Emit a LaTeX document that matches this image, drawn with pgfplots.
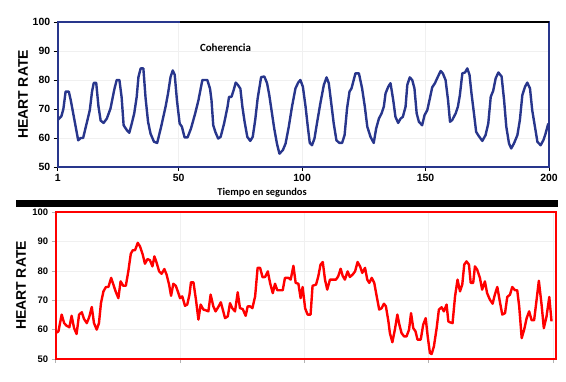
\documentclass[border=0pt]{standalone}
\usepackage{fontspec}
\setmainfont{Liberation Sans}
\newfontfamily\carl{Carlito}
\usepackage{pgfplots}
\pgfplotsset{compat=1.18}
\definecolor{topblue}{RGB}{40,54,140}
\definecolor{myred}{RGB}{255,0,0}
\begin{document}
\begin{tikzpicture}
\useasboundingbox (0,0) rectangle (566bp,382bp);
\begin{axis}[
  at={(57.7bp,215bp)}, anchor=south west, scale only axis,
  width=491.3bp, height=145bp,
  xmin=1, xmax=200, ymin=50, ymax=100,
  xtick={1,50,100,150,200}, ytick={50,60,...,100},
  xtick pos=bottom, ytick pos=left,
  tick align=outside, major tick length=4bp,
  tick style={black, line width=0.6bp},
  axis line style={draw=topblue, line width=2bp},
  grid=major, grid style={gray!12, line width=0.4bp},
  /pgf/number format/assume math mode=true,
  tick label style={font=\fontsize{10.5}{12}\selectfont\bfseries},
  ylabel={HEART RATE},
  ylabel style={font=\fontsize{14}{16}\selectfont\bfseries, at={(axis description cs:-0.0706,0.5)}, anchor=center, rotate=0},
  xlabel={Tiempo en segundos},
  xlabel style={font=\carl\fontsize{10.5}{12}\selectfont\bfseries, at={(axis description cs:0.416,-0.179)}, anchor=center},
]
\addplot[topblue, line width=2.4bp, line join=round] coordinates {
(1,66.2) (2.5,67.5) (3.3,70) (4.2,76) (5.5,76) (6.3,73) (9.3,59.2) (10.3,60) (11.3,60) (13,66) (14,69.6) (14.9,76) (15.6,79) (16.6,79) (17.5,71) (18.4,66) (19.6,65.2) (20.9,66.7) (22.4,70.2) (24,77) (24.9,80) (26,80) (26.9,74) (27.7,64.4) (29,62.7) (30,61.8) (31,65) (32,68.5) (33,74.2) (33.7,81) (34.6,84) (35.7,84) (36.6,73.7) (37.6,65.6) (38.6,61.5) (40,58.7) (41.3,58.3) (42.9,63.9) (44.7,70.8) (45.7,75.4) (46.7,81) (47.6,83.3) (48.4,81.8) (49.3,73) (50.4,65) (51.3,63.9) (52.4,60.2) (53.6,60.2) (55,63.3) (56.7,68.5) (58,73) (59.6,80) (60.7,80) (61.6,80) (62.7,77) (63.3,73) (64,64.4) (64.9,62) (66,59.8) (67,60.4) (68.4,65) (69.8,70.8) (70.4,74.2) (71.4,74.2) (72.3,76.6) (73.1,79.1) (74,78.3) (75,77) (75.8,70.8) (76.7,65.6) (77.8,60.4) (79,59) (80,60.4) (81,66.2) (82,73.7) (83.4,81) (84.7,81.2) (85.8,78.9) (86.7,74.8) (87.6,69.6) (88.7,63.3) (89.8,58.1) (90.8,54.6) (92.2,55.8) (93.3,58.1) (94.6,63.9) (95.9,70.8) (97.3,77.1) (98.4,79.1) (99.3,80) (100.3,77.7) (101.4,70.8) (102.3,63.9) (103.1,58.3) (104,57.5) (105,59.8) (106,65) (107.4,72) (108.8,78.3) (109.9,80.9) (110.8,78.9) (111.8,72) (112.8,65) (113.9,59.2) (115.1,58.3) (116.2,58.3) (117.2,61) (118.2,70.2) (119.2,76) (120,77.1) (120.9,80) (121.6,82.3) (123,82.3) (124.3,77.1) (125.4,70.8) (126.4,63.9) (127.7,60.4) (129,58.3) (130,63.3) (131.1,66.7) (132.2,68.5) (133.1,70.8) (133.8,75.4) (134.9,77.7) (135.8,78.9) (136.9,73.1) (137.8,67.3) (138.9,65.2) (139.9,66.7) (140.8,67.3) (141.9,70.8) (142.6,78.3) (143.6,80.9) (144.6,80) (145.5,77.1) (146.4,68.5) (147.3,65.6) (148.6,64.4) (149.6,67.9) (150.7,69.6) (151.6,73.1) (152.7,77.5) (153.8,78.9) (154.7,80.6) (156.1,83.1) (157,82.3) (158.1,80) (159.1,73.1) (159.9,65.6) (160.8,66.2) (162.2,68.5) (163.1,70.8) (163.9,74.8) (164.9,82.3) (166,82.6) (166.9,84) (167.8,81.8) (168.6,75.4) (169.6,68.5) (170.5,62.1) (171.6,60.6) (173,59) (174.3,61) (175.4,65) (176.4,74.2) (177.4,76.3) (178.4,80.6) (179.5,82.6) (180.8,81.2) (181.8,73.1) (182.7,63.9) (183.8,58.1) (184.7,56.4) (185.8,58.1) (187.2,61) (188.2,66.2) (189.2,74.8) (190.3,77.7) (191.2,79.1) (192.3,77.1) (193.2,69.6) (194.3,63.9) (195.3,58.7) (196.6,57.5) (197.7,59.2) (198.6,61.5) (199.7,65)
};
\node[font=\carl\fontsize{11}{13}\selectfont\bfseries] at (axis description cs:0.3415,0.821) {Coherencia};
\end{axis}
\draw[black, line width=2bp] (180bp,360bp) -- (549bp,360bp);
\fill[black] (16bp,175bp) rectangle (558bp,182bp);
\begin{axis}[
  at={(55.7bp,23bp)}, anchor=south west, scale only axis,
  width=500.3bp, height=147bp,
  xmin=0, xmax=201.2, ymin=50, ymax=100,
  xtick={0,50,100,150,200}, xticklabels={}, ytick={50,60,...,100},
  xtick pos=bottom, ytick pos=left,
  tick align=outside, major tick length=4bp,
  tick style={gray!60, line width=0.6bp},
  axis line style={draw=myred, line width=2bp},
  grid=major, grid style={gray!12, line width=0.4bp},
  /pgf/number format/assume math mode=true,
  tick label style={font=\fontsize{9.5}{11}\selectfont\bfseries},
  ylabel={HEART RATE},
  ylabel style={font=\fontsize{14}{16}\selectfont\bfseries, at={(axis description cs:-0.0694,0.5)}, anchor=center, rotate=0},
]
\addplot[myred, line width=2.4bp, line join=round] coordinates {
(0,58.8) (1.1,59.4) (2.4,65.1) (3.4,62.2) (4.4,61.3) (5.5,60.8) (6.4,64.7) (7.4,60.5) (8.4,58.5) (9.4,65.1) (10.5,65.9) (11.4,63.6) (12.5,62.2) (13.5,64.3) (14.5,67.7) (15.4,62.2) (16.5,60) (17.4,62.2) (18.2,69) (19.2,73) (20.2,74.5) (21.2,74.5) (22.3,77.6) (23.2,75.3) (24.1,73) (25.2,70.7) (26.1,76.4) (27.2,74.9) (28.2,74.9) (29.2,79.8) (30.2,85.8) (31,87) (31.9,87) (33,89.5) (33.9,88.3) (35,85.5) (35.9,82.4) (36.9,84) (37.9,83.6) (38.9,81.5) (39.7,84.9) (40.6,82.7) (41.6,79.8) (42.6,79) (43.7,80.6) (44.6,78.7) (45.6,75.3) (46.4,71.5) (47.3,75.6) (48.3,74.9) (49.1,73) (50,70.7) (50.9,71.3) (52,68.1) (52.9,68.5) (53.8,71.9) (54.4,76.1) (55.4,76.1) (56.4,70.2) (57.4,63.4) (58.3,68.5) (59.4,66.8) (60.3,66.6) (61.4,66.2) (62.3,71.9) (63.4,67.9) (64.3,66.2) (65.4,67.7) (66.4,69.3) (67.2,66.8) (68.1,63.9) (69.2,64.5) (70.1,69) (71,67.3) (72.1,66.2) (73.2,72.7) (74.1,67.3) (75.2,67) (76.4,64.7) (77.2,67.9) (78.2,67.9) (79.1,67.3) (80.2,71.3) (81.2,81) (82.2,81) (83.2,77.8) (84.2,77.9) (85.3,79.8) (86.2,75.9) (87.3,72.4) (88.2,75.6) (89.1,73.4) (90.2,73.4) (91.3,73.4) (92.2,77.6) (93.6,77.6) (94.5,77) (95.6,81.7) (96.5,75.9) (97.6,75.6) (98.5,70.7) (99.3,74.5) (100.3,67.3) (101.3,65.1) (102.5,65.1) (103.3,74.9) (104.7,75.3) (105.6,78.1) (106.5,82.1) (107.4,83) (108.3,77) (109.2,73.6) (110.3,77) (111.6,77) (112.7,77) (113.6,78.1) (114.6,80.7) (115.4,78.3) (116.3,77) (117.4,79.8) (118.3,77.9) (119.4,78.7) (120.4,79.8) (121.4,83) (122.4,81.5) (123.3,79.3) (124.4,81) (125.3,77) (126.1,75.9) (127.1,77.6) (128.1,75.9) (129.1,71.3) (130.1,66.8) (131.1,67.3) (132,68.8) (132.8,67.9) (133.8,62.8) (134.4,58.8) (135.4,55.7) (136.4,60) (137.4,65.1) (138.2,61.7) (139.1,58.8) (140.1,57.7) (141.1,57.7) (142.1,60) (142.9,65.6) (143.8,60.5) (144.7,59.4) (145.5,56.6) (146.8,56.6) (147.8,61.7) (148.8,63.9) (149.6,57.7) (150.5,52) (151.2,51.7) (152.1,54.3) (153.2,60.5) (154.1,66.8) (155.2,67.6) (156.1,66.2) (157.2,68.5) (157.9,62.8) (158.5,62.5) (159.6,62.2) (160.6,71.3) (161.6,77) (162.6,73) (163.5,75.3) (164.3,82.1) (165.2,83.2) (166.2,82.1) (166.9,75.9) (167.9,75.9) (168.6,81.5) (169.5,80.4) (170.6,77.6) (171.5,73.6) (172.6,76.4) (173.5,72.4) (174.6,70.2) (175.7,68.8) (176.6,71.9) (177.6,74.5) (178.6,69.6) (179.6,65.1) (180.7,65.6) (181.6,71.1) (182.7,71.9) (183.6,74.5) (184.7,73.4) (185.6,73.4) (186.4,67.9) (187.4,57.1) (188.4,60) (189.4,63.9) (190.4,66.2) (191.4,63.2) (192.4,63.2) (193.4,70.2) (194.3,76.6) (195.4,68.5) (196.3,60.5) (197.4,64.5) (198.5,71.1) (199.4,62.8)
};
\end{axis}
\end{tikzpicture}
\end{document}
